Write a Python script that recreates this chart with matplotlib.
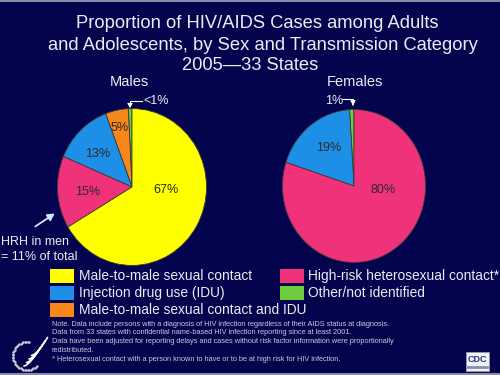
import numpy as np
import matplotlib.pyplot as plt
from matplotlib.patches import Rectangle, FancyArrowPatch

plt.rcParams['font.family'] = ['Liberation Sans', 'DejaVu Sans']

# data
male_labels = ['Other/not identified', 'Male-to-male sexual contact and IDU',
               'Injection drug use (IDU)', 'High-risk heterosexual contact*',
               'Male-to-male sexual contact']
male_vals = [0.8, 5, 13, 15, 67]
male_txt = ['', '5%', '13%', '15%', '67%']

female_labels = ['Other/not identified', 'Injection drug use (IDU)',
                 'High-risk heterosexual contact*']
female_vals = [1, 19, 80]
female_txt = ['', '19%', '80%']

colors = {
    'Male-to-male sexual contact': '#ffff00',
    'High-risk heterosexual contact*': '#f0327a',
    'Injection drug use (IDU)': '#1e8fe6',
    'Male-to-male sexual contact and IDU': '#f7861b',
    'Other/not identified': '#6ccc3c',
}
legend_col1 = ['Male-to-male sexual contact', 'Injection drug use (IDU)',
               'Male-to-male sexual contact and IDU']
legend_col2 = ['High-risk heterosexual contact*', 'Other/not identified']

notes = [
    "Note. Data include persons with a diagnosis of HIV infection regardless of their AIDS status at diagnosis.",
    "Data from 33 states with confidential name-based HIV infection reporting since at least 2001.",
    "Data have been adjusted for reporting delays and cases without risk factor information were proportionally",
    "redistributed.",
    "* Heterosexual contact with a person known to have or to be at high risk for HIV infection.",
]

BG = '#04044e'
W, H = 500, 375
fig = plt.figure(figsize=(5, 3.75), dpi=100, facecolor=BG)

# overlay axes in pixel coords
ov = fig.add_axes([0, 0, 1, 1])
ov.set_xlim(0, W)
ov.set_ylim(H, 0)
ov.axis('off')
ov.set_zorder(5)
ov.patch.set_alpha(0)

# frame lines
ov.plot([0, W], [0.8, 0.8], color='#8a8aa8', lw=1.5)
ov.plot([0, W], [374, 374], color='#8a8aa8', lw=1.5)


def pie_axes(cx, cy, rx, ry):
    ax = fig.add_axes([(cx - rx) / W, (H - cy - ry) / H, 2 * rx / W, 2 * ry / H])
    return ax


def draw_pie(ax, vals, labels, txt, txt_pos):
    ax.pie(vals, colors=[colors[l] for l in labels], startangle=90,
           counterclock=True, radius=1,
           wedgeprops=dict(edgecolor='#3a3a3a', linewidth=0.6))
    ax.set_aspect('auto')
    ax.set_xlim(-1.02, 1.02)
    ax.set_ylim(-1.02, 1.02)
    for t, p in zip(txt, txt_pos):
        if t:
            ax.text(p[0], p[1], t, ha='center', va='center', fontsize=9,
                    color='#2a2a2a')


axm = pie_axes(132, 187, 76, 80)
draw_pie(axm, male_vals, male_labels, male_txt,
         [None, (-0.17, 0.75), (-0.46, 0.42), (-0.59, -0.06), (0.45, -0.04)])
axf = pie_axes(354, 186, 73, 78)
draw_pie(axf, female_vals, female_labels, female_txt,
         [None, (-0.36, 0.5), (0.4, -0.05)])

txtc = '#ececf4'
# title
ov.text(257, 23, 'Proportion of HIV/AIDS Cases among Adults', ha='center',
        va='center', fontsize=13.2, color=txtc)
ov.text(263, 45, 'and Adolescents, by Sex and Transmission Category',
        ha='center', va='center', fontsize=13.2, color=txtc)
ov.text(250, 66, '2005\u201433 States', ha='center', va='center',
        fontsize=13.2, color=txtc)
ov.text(129, 82, 'Males', ha='center', va='center', fontsize=10.5, color=txtc)
ov.text(355, 82, 'Females', ha='center', va='center', fontsize=10.5, color=txtc)

# small slice callouts
ov.plot([130, 130, 142], [104, 101, 101], color='white', lw=0.8)
ov.annotate('', xy=(130, 108), xytext=(130, 103),
            arrowprops=dict(arrowstyle='-|>,head_width=0.15,head_length=0.25',
                            color='white', lw=0.8))
ov.text(143, 101, '<1%', ha='left', va='center', fontsize=9, color=txtc)

ov.plot([342, 353, 353], [99, 99, 103], color='white', lw=0.8)
ov.annotate('', xy=(353, 108), xytext=(353, 102),
            arrowprops=dict(arrowstyle='-|>,head_width=0.15,head_length=0.25',
                            color='white', lw=0.8))
ov.text(343, 101, '1%', ha='right', va='center', fontsize=9, color=txtc)

# HRH annotation
ov.add_patch(FancyArrowPatch((33, 228), (57, 212),
                             arrowstyle='-|>,head_width=2.2,head_length=4',
                             color='#cfe6ff', lw=1.3))
ov.text(1, 242, 'HRH in men', ha='left', va='center', fontsize=9, color=txtc)
ov.text(1, 257, '= 11% of total', ha='left', va='center', fontsize=9,
        color=txtc)

# legend
for i, lab in enumerate(legend_col1):
    y = 276 + i * 17
    ov.add_patch(Rectangle((50, y - 7), 24, 14, facecolor=colors[lab],
                           edgecolor='none'))
    ov.text(79, y, lab, ha='left', va='center', fontsize=9.9, color=txtc)
for i, lab in enumerate(legend_col2):
    y = 276 + i * 17
    ov.add_patch(Rectangle((280, y - 7), 24, 14, facecolor=colors[lab],
                           edgecolor='none'))
    ov.text(308, y, lab, ha='left', va='center', fontsize=9.9, color=txtc)

# notes
for i, line in enumerate(notes):
    ov.text(52, 324 + i * 8.8, line, ha='left', va='center', fontsize=5.3,
            color='#c8c8d8')

# HHS logo (rough)
th = np.linspace(np.pi * 0.45, np.pi * 1.75, 40)
ov.scatter(27 + 14 * np.cos(th), 356 - 14 * np.sin(th), s=0.6, color='#c8c8d8')
for k in range(4):
    xs = np.linspace(0, 1, 20)
    ov.plot(24 + k * 2.5 + 16 * xs, 366 - k * 3.5 - 18 * xs ** 1.5,
            color='white', lw=1.2, solid_capstyle='round')

# CDC logo
ov.add_patch(Rectangle((466, 352), 23, 19, facecolor='#f2f2f2',
                       edgecolor='#9aa0c0', lw=0.5))
ov.text(477.5, 359, 'CDC', ha='center', va='center', fontsize=6.5,
        color='#1e3a8a', fontweight='bold')
ov.plot([468, 487], [367, 367], color='#8890b0', lw=2)

fig.savefig('out.png', dpi=100, facecolor=BG)
